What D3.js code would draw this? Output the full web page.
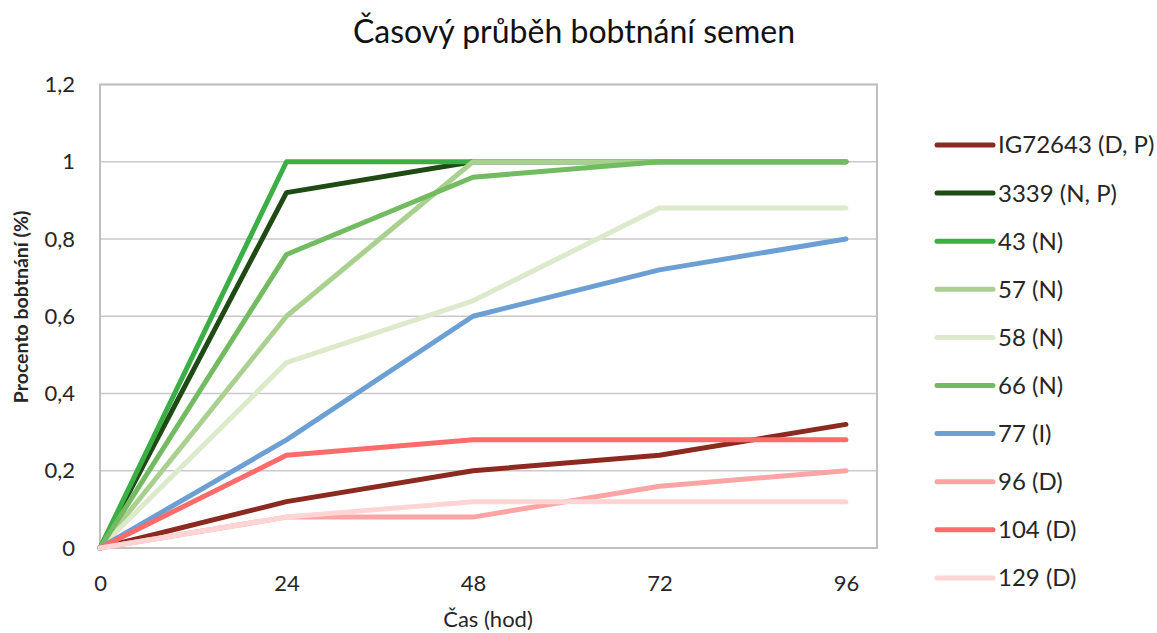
<!DOCTYPE html>
<html><head><meta charset="utf-8">
<script src="https://cdn.jsdelivr.net/npm/d3@7"></script>
<style>body{margin:0;background:#fff;} svg{display:block;font-family:Lato, "Open Sans", sans-serif;}</style>
</head><body>
<svg id="chart" width="1157" height="633"></svg>
<script>
const hours = [0, 24, 48, 72, 96];
const xTicks = [0, 24, 48, 72, 96];
const yTicks = [0, 0.2, 0.4, 0.6, 0.8, 1, 1.2];
const seriesNames = ["IG72643 (D, P)", "3339 (N, P)", "43 (N)", "57 (N)", "58 (N)", "66 (N)", "77 (I)", "96 (D)", "104 (D)", "129 (D)"];
const seriesColors = ["#8b2a20", "#1f4a14", "#3cae46", "#a9d08e", "#dde9cb", "#72bb60", "#6c9fd3", "#ffa4a4", "#ff6b6b", "#ffd4d4"];
const vIG72643 = [0, 0.12, 0.20, 0.24, 0.32];
const v3339 = [0, 0.92, 1.00, 1.00, 1.00];
const v43 = [0, 1.00, 1.00, 1.00, 1.00];
const v57 = [0, 0.60, 1.00, 1.00, 1.00];
const v58 = [0, 0.48, 0.64, 0.88, 0.88];
const v66 = [0, 0.76, 0.96, 1.00, 1.00];
const v77 = [0, 0.28, 0.60, 0.72, 0.80];
const v96 = [0, 0.08, 0.08, 0.16, 0.20];
const v104 = [0, 0.24, 0.28, 0.28, 0.28];
const v129 = [0, 0.08, 0.12, 0.12, 0.12];
const seriesValues = [vIG72643, v3339, v43, v57, v58, v66, v77, v96, v104, v129];

const svg = d3.select("#chart");
const L = 100, R = 877, T = 84.5, B = 548;
const x = d3.scaleLinear().domain([0, 100]).range([L, R]);
const y = d3.scaleLinear().domain([0, 1.2]).range([B, T]);
const fmt = d => d3.format(".1f")(d).replace(/\.0$/, "").replace(".", ",");

// gridlines
svg.append("g").selectAll("line").data(yTicks).join("line")
  .attr("x1", L).attr("x2", R).attr("y1", d => y(d)).attr("y2", d => y(d))
  .attr("stroke", "#c9c9c9").attr("stroke-width", 1.5);
// border
svg.append("rect").attr("x", L).attr("y", T).attr("width", R - L).attr("height", B - T)
  .attr("fill", "none").attr("stroke", "#bfbfbf").attr("stroke-width", 2);

// axes (labels only)
const yAxis = d3.axisLeft(y).tickValues(yTicks).tickFormat(fmt).tickSize(0).tickPadding(25);
const gy = svg.append("g").attr("transform", `translate(${L},0)`).call(yAxis);
gy.select(".domain").remove();
gy.selectAll("text").attr("font-size", 22).attr("fill", "#262626").attr("font-family", "Lato, sans-serif");
const xAxis = d3.axisBottom(x).tickValues(xTicks).tickFormat(d => d).tickSize(0).tickPadding(27);
const gx = svg.append("g").attr("transform", `translate(0,${B})`).call(xAxis);
gx.select(".domain").remove();
gx.selectAll("text").attr("font-size", 22).attr("fill", "#262626").attr("font-family", "Lato, sans-serif");

// lines
const line = d3.line().x((d, i) => x(hours[i])).y(d => y(d));
svg.append("g").selectAll("path").data(seriesValues).join("path")
  .attr("d", d => line(d)).attr("fill", "none")
  .attr("stroke", (d, i) => seriesColors[i]).attr("stroke-width", 5)
  .attr("stroke-linejoin", "round").attr("stroke-linecap", "round");

// title
svg.append("text").attr("x", 574).attr("y", 43).attr("text-anchor", "middle")
  .attr("font-size", 32).attr("fill", "#111").text("Časový průběh bobtnání semen");
// axis titles
svg.append("text").attr("x", 488).attr("y", 627).attr("text-anchor", "middle")
  .attr("font-size", 22).attr("fill", "#262626").text("Čas (hod)");
svg.append("text").attr("transform", "translate(28,307) rotate(-90)").attr("text-anchor", "middle")
  .attr("font-size", 19.5).attr("font-weight", "bold").attr("fill", "#262626").text("Procento bobtnání (%)");

// legend
const leg = svg.append("g").selectAll("g").data(seriesNames).join("g")
  .attr("transform", (d, i) => `translate(937,${145 + i * 48.1})`);
leg.append("line").attr("x1", 0).attr("x2", 56).attr("y1", 0).attr("y2", 0)
  .attr("stroke", (d, i) => seriesColors[i]).attr("stroke-width", 5).attr("stroke-linecap", "round");
leg.append("text").attr("x", 61).attr("y", 0).attr("dy", "0.35em")
  .attr("font-size", 24).attr("fill", "#262626").text(d => d);
</script>
</body></html>
